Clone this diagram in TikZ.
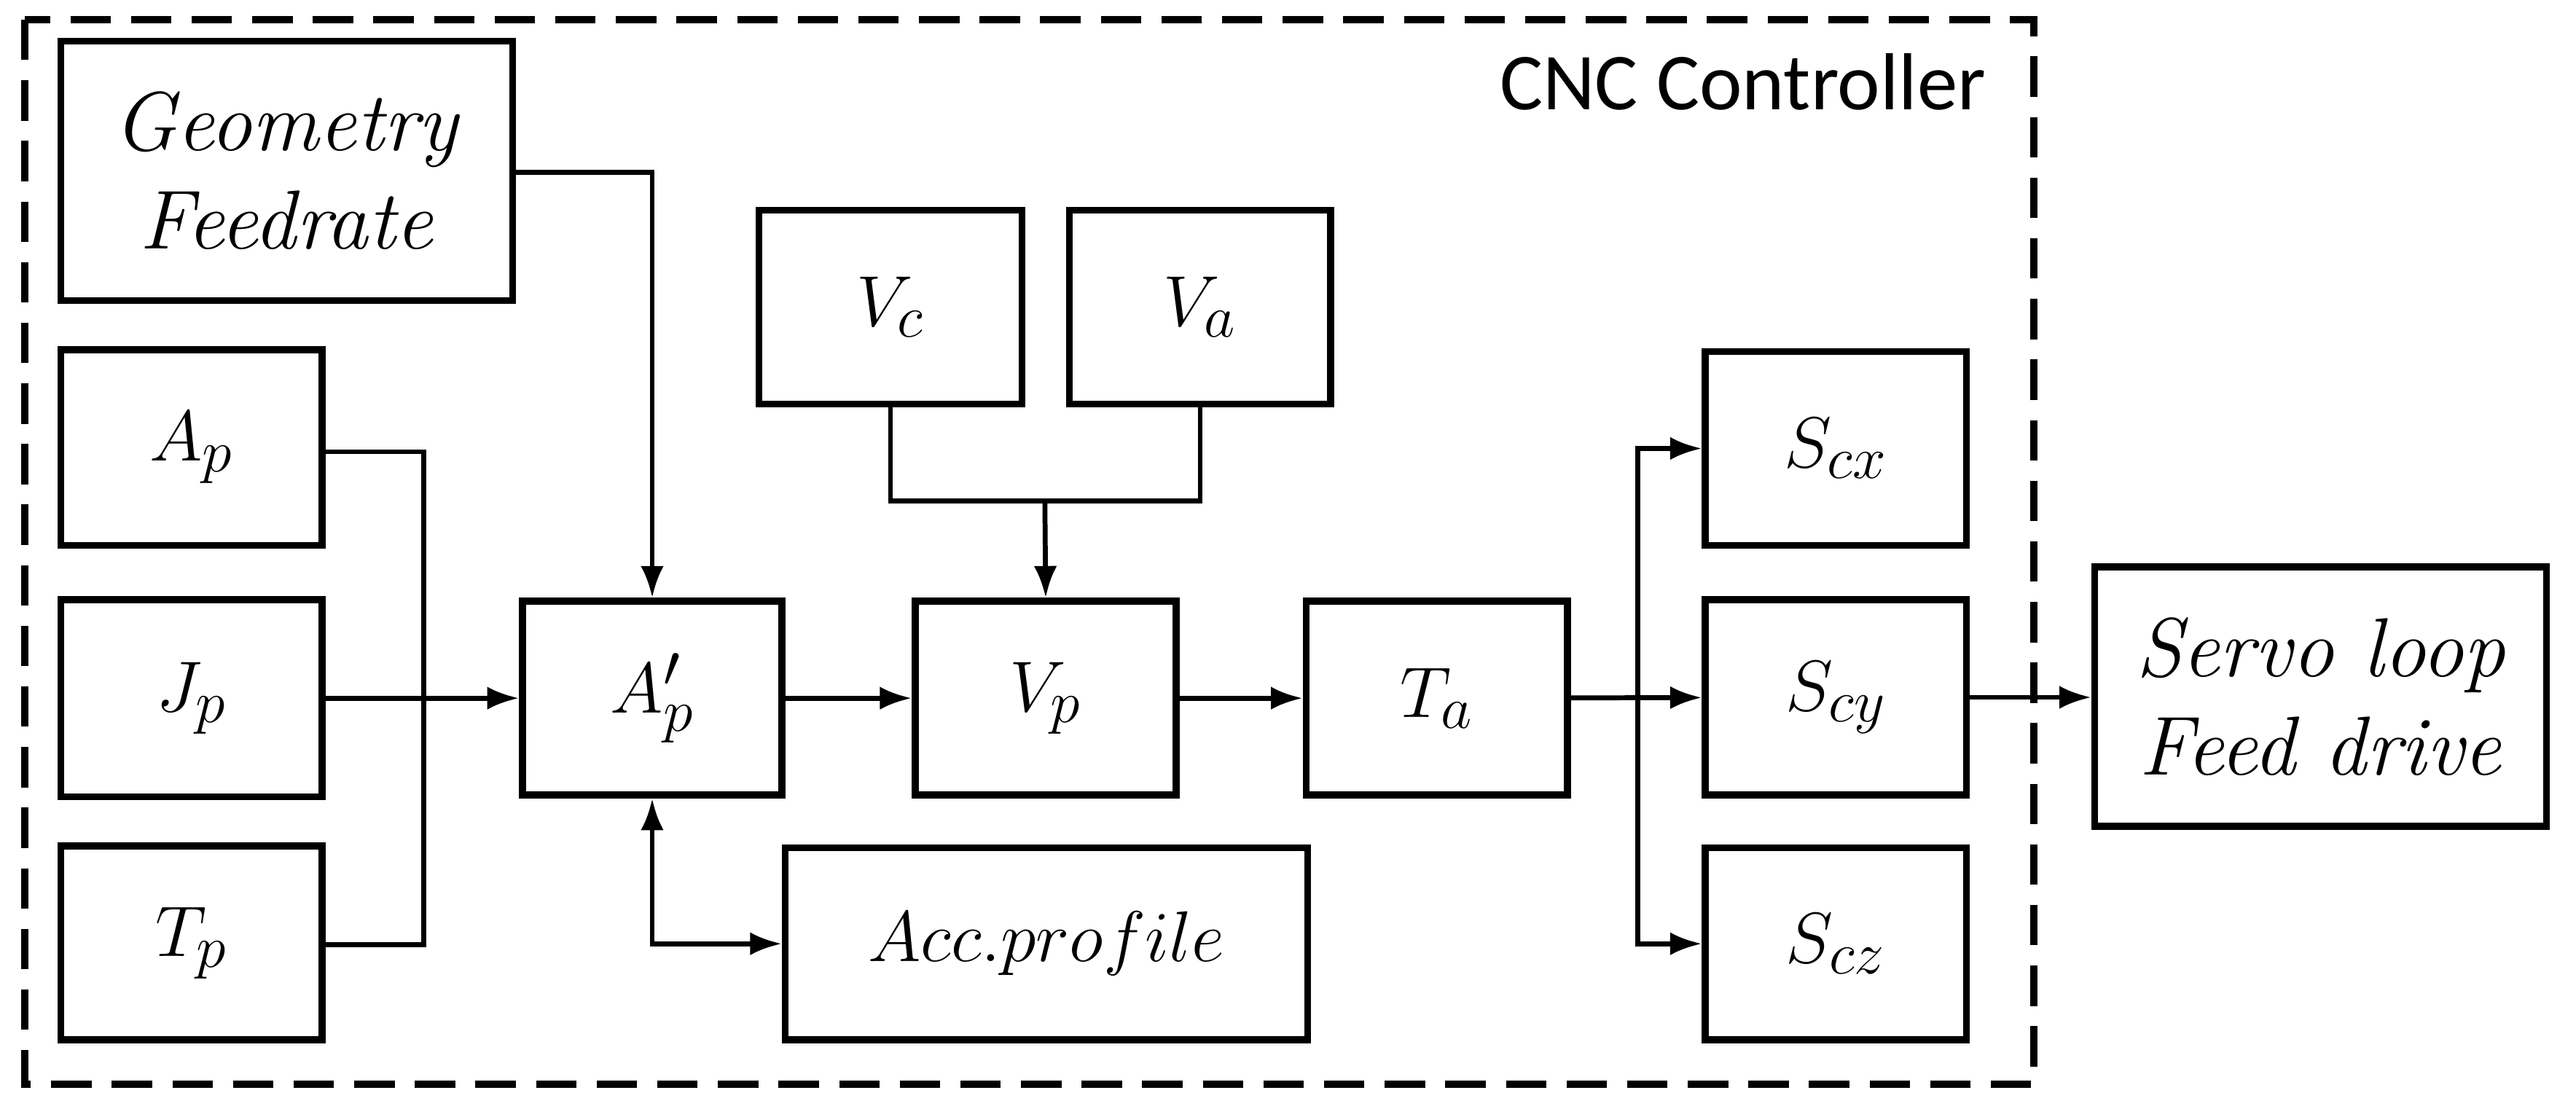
\documentclass[tikz,border=0pt]{standalone}
\usepackage{fontspec}
\usetikzlibrary{arrows.meta}
\newfontfamily\cncfont{Carlito}
\begin{document}
\begin{tikzpicture}[x=0.02cm,y=-0.02cm,
 box/.style={draw,line width=2.4pt,inner sep=0,font=\fontsize{29}{34}\selectfont},
 ln/.style={line width=1.7pt},
 ar/.style={ln,-{Latex[length=11pt,width=8pt]}}]
\useasboundingbox (0,0) rectangle (1568,675);
\draw[line width=2.4pt,dash pattern=on 14pt off 7pt] (15,12) rectangle (1238,660);
\node[anchor=east,font=\cncfont\fontsize{28}{32}\selectfont] (cnc) at (1215,50) {CNC Controller};
\newcommand\bx[6]{\node[box,minimum width=(#4-#2)*0.02cm,minimum height=(#5-#3)*0.02cm,align=center] (#1) at ({(#2+#4)/2},{(#3+#5)/2}) {#6};}
\bx{geo}{37}{25}{312}{183}{\textit{Geometry}\\[0pt]\textit{Feedrate}}
\bx{ap}{37}{213}{196}{332}{$A_p$}
\bx{jp}{37}{365}{196}{485}{$J_p$}
\bx{tp}{37}{515}{196}{633}{$T_p$}
\bx{app}{318}{366}{476}{484}{$A'_p$}
\bx{vc}{462}{128}{622}{246}{$V_c$}
\bx{va}{651}{128}{810}{246}{$V_a$}
\bx{vp}{557}{366}{716}{484}{$V_p$}
\bx{ta}{795}{366}{954}{484}{$T_a$}
\bx{acc}{478}{516}{796}{633}{$Acc.profile$}
\bx{sx}{1038}{214}{1197}{332}{$S_{cx}$}
\bx{sy}{1038}{365}{1197}{484}{$S_{cy}$}
\bx{sz}{1038}{516}{1197}{633}{$S_{cz}$}
\bx{sv}{1275}{345}{1550}{503}{\textit{Servo loop}\\[0pt]\textit{Feed drive}}
\coordinate (g1) at (398,105);
\draw[ar] (geo.east|-g1) -| (app.north);
\coordinate (m1) at (258,275);
\draw[ln] (ap.east|-m1) -| (258,575) -- (tp.east|-0,575);
\draw[ar] (jp) -- (app);
\draw[ln] (vc.south) |- (636,305) -| (va.south);
\draw[ar] (636,305) -- (vp.north);
\draw[ar] (app) -- (vp);
\draw[ar] (vp) -- (ta);
\draw[ar] (ta) -- (sy);
\draw[ar] (997,425) |- (sx.west);
\draw[ar] (997,425) |- (sz.west);
\draw[ar] (sy.east) -- (sy.east-|sv.west);
\draw[ln,{Latex[length=11pt,width=8pt]}-{Latex[length=11pt,width=8pt]}] (app.south) |- (acc.west);
\end{tikzpicture}
\end{document}
